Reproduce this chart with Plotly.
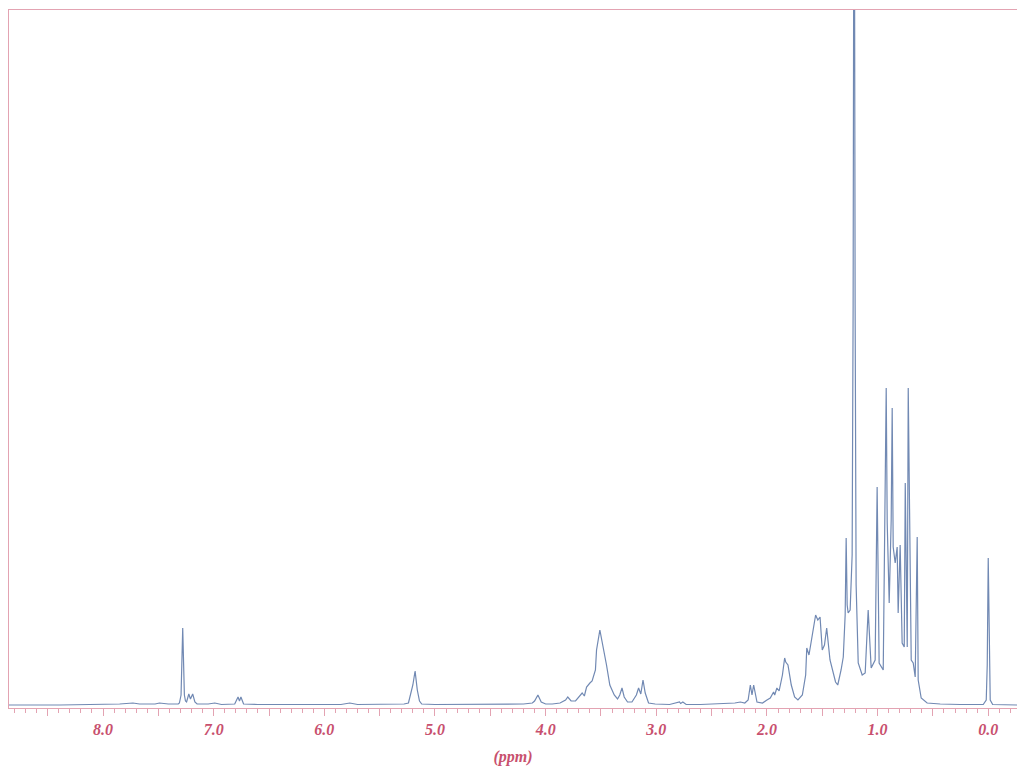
import plotly.graph_objects as go

# Chemical shift (ppm) and intensity
ppm = [
    8.85, 8.39, 7.85, 7.73, 7.67, 7.53, 7.49, 7.41, 7.32,
    7.31, 7.295, 7.28, 7.265, 7.255,
    7.245, 7.225, 7.21, 7.19, 7.17, 7.15,
    7.05, 6.99, 6.93,
    6.81, 6.78, 6.767, 6.754, 6.73,
    6.6, 6.3, 6.2, 5.85, 5.77, 5.7, 5.4, 5.28,
    5.24, 5.22, 5.20, 5.18, 5.16, 5.14, 5.12,
    5.0, 4.6, 4.4, 4.2, 4.12,
    4.10, 4.07, 4.04, 4.0,
    3.94, 3.87, 3.82, 3.80, 3.77, 3.73, 3.70, 3.67, 3.65, 3.63, 3.60, 3.58,
    3.55, 3.54, 3.51, 3.48, 3.45, 3.42, 3.38, 3.35, 3.33, 3.31, 3.29, 3.26,
    3.22, 3.18, 3.16, 3.14, 3.12, 3.10, 3.07, 3.01, 2.88,
    2.79, 2.78, 2.76, 2.73, 2.60, 2.42, 2.29, 2.24, 2.20,
    2.17, 2.15, 2.135, 2.12, 2.09, 2.04, 2.00, 1.97, 1.94, 1.93, 1.91, 1.89,
    1.86, 1.84, 1.83, 1.81, 1.78, 1.75, 1.72, 1.68, 1.65, 1.64, 1.62, 1.59,
    1.56, 1.54, 1.52, 1.50, 1.48, 1.46, 1.43, 1.38, 1.36, 1.33, 1.31, 1.293,
    1.284, 1.275, 1.266, 1.248, 1.230, 1.221, 1.212, 1.203, 1.194, 1.175,
    1.139, 1.112, 1.085, 1.058, 1.022, 1.004, 0.986, 0.949, 0.922, 0.913,
    0.895, 0.877, 0.868, 0.859, 0.841, 0.823, 0.814, 0.796, 0.778, 0.759,
    0.750, 0.732, 0.723, 0.696, 0.678, 0.660, 0.642, 0.633, 0.606, 0.552,
    0.434, 0.253, 0.045, 0.018, 0.009, 0.0, -0.009, -0.018, -0.04, -0.262,
]
intensity = [
    0, 0, 1, 2, 1, 1, 2, 1, 1,
    2, 10, 77, 10, 4,
    3, 11, 6, 11, 3, 1,
    1, 2, 0.5,
    1, 8, 4, 8, 1,
    0.5, 1, 0.5, 0.5, 2, 0.5, 0.5, 1,
    2, 10, 20, 34, 15, 4, 1,
    0.5, 0.5, 1, 1, 2,
    4, 10, 3, 1,
    1, 2, 5, 8, 4, 4, 8, 12, 9, 18, 22, 24,
    35, 55, 75, 58, 40, 20, 10, 6, 10, 17, 8, 3,
    3, 10, 17, 11, 25, 12, 2, 1, 0.5,
    3, 1.5, 3, 0.5, 0.5, 1, 2, 3, 2,
    5, 20, 10, 20, 3, 2, 5, 7, 13, 10, 17, 14,
    30, 47, 43, 40, 20, 8, 5, 10, 30, 57, 50, 70,
    90, 85, 88, 55, 60, 77, 45, 23, 20, 35, 48, 90,
    167, 100, 92, 95, 150, 400, 1000, 400, 120, 42,
    30, 32, 95, 37, 45, 218, 42, 35, 317, 182,
    102, 185, 297, 158, 142, 158, 92, 160, 62, 58,
    222, 58, 317, 45, 42, 28, 168, 25, 7, 2,
    1, 0.5, 0.5, 5, 40, 147, 40, 5, 0.5, 0,
]

major_ticks = [8.5, 8.0, 7.5, 7.0, 6.5, 6.0, 5.5, 5.0, 4.5, 4.0, 3.5, 3.0, 2.5, 2.0, 1.5, 1.0, 0.5, 0.0]
major_text = ["", "8.0", "", "7.0", "", "6.0", "", "5.0", "", "4.0", "", "3.0", "", "2.0", "", "1.0", "", "0.0"]

frame_color = "#e3a3b2"
label_color = "#c8506e"
label_font = dict(family="Liberation Serif", size=16, color=label_color,
                  style="italic", weight="bold")

fig = go.Figure()
fig.add_trace(go.Scatter(
    x=ppm, y=intensity, mode="lines",
    line=dict(color="#7189b3", width=1.2),
    hoverinfo="x+y", showlegend=False,
))

fig.update_layout(
    width=1017, height=766,
    margin=dict(l=9, r=0, t=10, b=58),
    paper_bgcolor="white", plot_bgcolor="white",
    xaxis=dict(
        range=[8.85, -0.26], showgrid=False, zeroline=False,
        showline=True, linecolor=frame_color, linewidth=1, mirror=True,
        tickmode="array", tickvals=major_ticks, ticktext=major_text,
        ticks="outside", ticklen=7, tickcolor=frame_color, tickwidth=1,
        minor=dict(tickmode="linear", tick0=0, dtick=0.1, ticks="outside",
                   ticklen=4, tickcolor=frame_color, tickwidth=1, showgrid=False),
        tickfont=label_font,
        title=dict(text="(ppm)", standoff=14, font=label_font),
    ),
    yaxis=dict(
        range=[-3, 695], showgrid=False, zeroline=False, showticklabels=False,
        showline=True, linecolor=frame_color, linewidth=1, ticks="",
    ),
)

fig.write_html(
    "out.html",
    config={"displayModeBar": False},
    post_script="document.body.style.margin='0';document.body.style.overflow='hidden';",
)
